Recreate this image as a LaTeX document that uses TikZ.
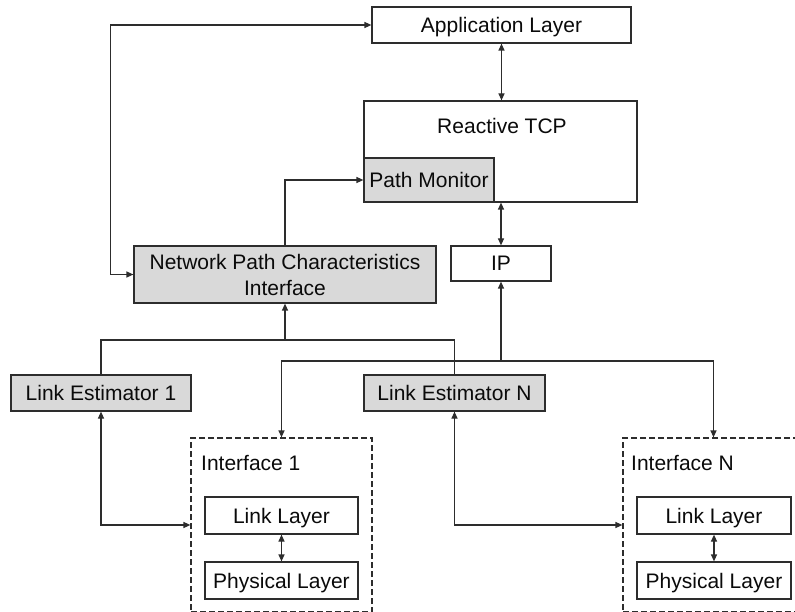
\documentclass[tikz,border=0pt]{standalone}
\usepackage{fontspec}
\setmainfont{Liberation Sans}
\usetikzlibrary{arrows.meta}
\definecolor{linec}{RGB}{45,45,45}
\definecolor{boxfill}{RGB}{217,217,217}
\definecolor{textc}{RGB}{10,10,10}
\begin{document}
\begin{tikzpicture}[x=1pt,y=-1pt,
  every node/.style={font=\fontsize{21}{26}\selectfont, text=textc},
  capc/.style={text height=15pt, text depth=0pt},
  blk/.style={draw=linec, line width=1.2pt, inner sep=0pt, fill=white, capc},
  gblk/.style={blk, fill=boxfill},
  ifbox/.style={draw=linec, line width=1.2pt, dash pattern=on 6pt off 3pt, inner sep=0pt},
  conn/.style={draw=linec, line width=1.2pt},
  >={Triangle[length=7pt,width=6pt]}]
\useasboundingbox (0,0) rectangle (795,612);

\node[blk, minimum width=259pt, minimum height=36pt] (app) at (501.5,25) {Application Layer};
\node[blk, minimum width=273pt, minimum height=101pt,
  label={[anchor=center, capc, yshift=-26pt, xshift=1.5pt]north:Reactive TCP}] (tcp) at (500.5,151.5) {};
\node[gblk, minimum width=130pt, minimum height=44pt] (pm) at (429,180) {Path Monitor};
\node[blk, minimum width=100pt, minimum height=35pt] (ip) at (501,263.5) {IP};
\node[gblk, text height=, text depth=, minimum width=302pt, minimum height=57pt, align=center] (npci) at (285,274.5) {Network Path Characteristics\\Interface};
\node[gblk, minimum width=180pt, minimum height=36pt] (le1) at (101,393) {Link Estimator 1};
\node[gblk, minimum width=181pt, minimum height=36pt] (leN) at (454.5,393) {Link Estimator N};

\node[ifbox, minimum width=181pt, minimum height=174pt] (if1) at (281.5,525) {};
\node[ifbox, minimum width=181pt, minimum height=174pt] (ifN) at (713.5,525) {};
\node[anchor=west, inner sep=0pt, capc] (if1t) at (201,463) {Interface 1};
\node[anchor=west, inner sep=0pt, capc] (ifNt) at (631,463) {Interface N};

\node[blk, minimum width=153pt, minimum height=37pt] (ll1) at (281.5,515.5) {Link Layer};
\node[blk, minimum width=153pt, minimum height=37pt] (pl1) at (281.5,580.5) {Physical Layer};
\node[blk, minimum width=154pt, minimum height=37pt] (llN) at (714,515.5) {Link Layer};
\node[blk, minimum width=154pt, minimum height=37pt] (plN) at (714,580.5) {Physical Layer};

\coordinate (lebus) at (0,340);
\coordinate (ipbus) at (0,361);

% connectors
\draw[conn, <->] (app.south) -- (app.south |- tcp.north);
\draw[conn, <->] (ip.north) -- (ip.north |- tcp.south);
\draw[conn, <->] (npci.west) -- ++(-23,0) |- (app.west);
\draw[conn, ->] (npci.north) |- (pm.west);
\draw[conn] (le1.north) -- (le1.north |- lebus) -| (leN.north);
\draw[conn, ->] (npci.south |- lebus) -- (npci.south);
\draw[conn, ->] (ip.south |- ipbus) -- (ip.south);
\draw[conn, ->] (ip.south |- ipbus) -| (if1.north);
\draw[conn, ->] (ip.south |- ipbus) -| (ifN.north);
\draw[conn, <->] (le1.south) |- (if1.west);
\draw[conn, <->] (leN.south) |- (ifN.west);
\draw[conn, <->] (ll1.south) -- (pl1.north);
\draw[conn, <->] (llN.south) -- (plN.north);
\end{tikzpicture}
\end{document}
